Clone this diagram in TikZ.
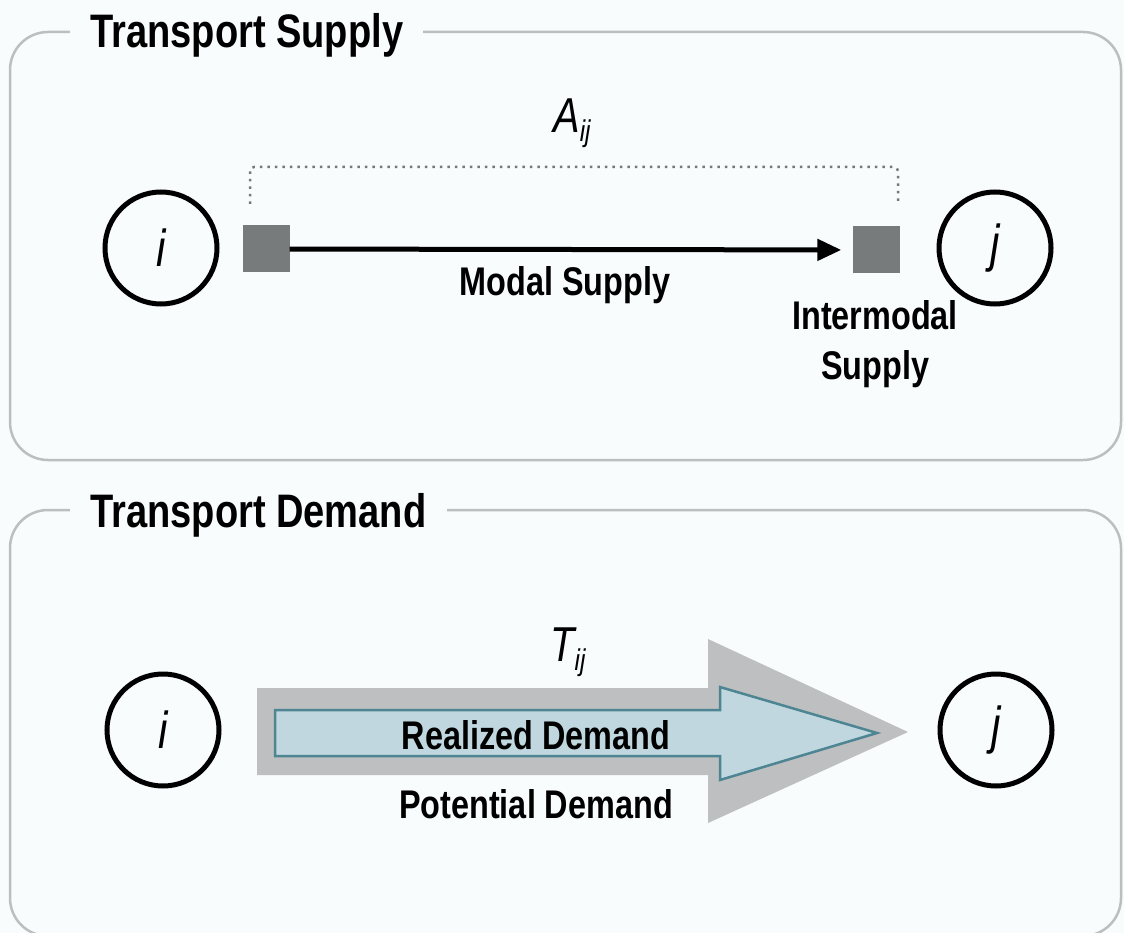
\documentclass[tikz,border=0pt]{standalone}
\usepackage{fontspec}
\setmainfont{Liberation Sans}[FakeStretch=0.81]
\usetikzlibrary{arrows.meta}

\definecolor{bgcol}{RGB}{249,252,253}
\definecolor{framecol}{RGB}{189,190,190}
\definecolor{boxcol}{RGB}{120,123,123}
\definecolor{potcol}{RGB}{190,191,193}
\definecolor{realcol}{RGB}{192,215,223}
\definecolor{realedge}{RGB}{77,133,147}
\definecolor{dotcol}{RGB}{120,120,120}

\tikzstyle{zone} = [draw=framecol,line width=2.5pt,rounded corners=38pt]
\tikzstyle{zonetitle} = [fill=bgcol,inner xsep=20pt,inner ysep=6pt,anchor=base west,font=\fontsize{47}{50}\selectfont\bfseries]
\tikzstyle{place} = [circle,draw,line width=5pt,minimum size=112pt,inner sep=0pt,font=\fontsize{52}{54}\selectfont\itshape]
\tikzstyle{terminal} = [fill=boxcol,minimum size=47pt,inner sep=0pt]
\tikzstyle{lbl} = [inner sep=0pt,align=center,font=\fontsize{40}{50}\selectfont\bfseries]
\tikzstyle{symb} = [inner sep=0pt,anchor=base,font=\fontsize{49}{50}\selectfont\itshape]
\tikzstyle{flow} = [line width=5pt,-{Triangle[length=24pt,width=21pt]},shorten >=11pt]
\tikzstyle{bracket} = [draw=dotcol,line width=2.5pt,dash pattern=on 2.5pt off 5pt,rounded corners=4pt]

\newcommand{\sub}[1]{\raisebox{-9pt}{\fontsize{30}{32}\selectfont #1}}

\begin{document}
\begin{tikzpicture}[x=1pt,y=-1pt]
	\path[use as bounding box,fill=bgcol] (0,0) rectangle (1124,933);

	% supply
	\draw[zone] (10,32) rectangle (1121,460);
	\node[zonetitle] (supply) at (70,48) {Transport Supply};

	\node[place] (i1) at (161,248) {i};
	\node[place] (j1) at (995,248) {j};
	\node[terminal] (s1) at (266,249) {};
	\node[terminal] (s2) at (876,250) {};

	\draw[flow] (s1) -- (s2);
	\coordinate (bl) at (250,204);
	\coordinate (br) at (898,204);
	\draw[bracket] (bl) -- (250,167) -- (898,167) -- (br);

	\node[symb] (aij) at (572,133) {A\sub{ij}};
	\node[lbl,anchor=base] (modal) at (565,295) {Modal Supply};
	\node[lbl,anchor=north] (inter) at (875,300) {Intermodal\\Supply};

	% demand
	\draw[zone] (10,510) rectangle (1121,936);
	\node[zonetitle] (demand) at (70,527) {Transport Demand};

	\node[place] (i2) at (163,730) {i};
	\node[place] (j2) at (996,730) {j};

	\fill[potcol] (257,688) -- (708,688) -- (708,639) -- (908,732) -- (708,823) -- (708,775) -- (257,775) -- cycle;
	\filldraw[fill=realcol,draw=realedge,line width=2.5pt] (275,710) -- (720,710) -- (720,687) -- (877,733) -- (720,780) -- (720,756) -- (275,756) -- cycle;

	\node[symb] (tij) at (568,661) {T\sub{ij}};
	\node[lbl,anchor=base] (real) at (536,749) {Realized Demand};
	\node[lbl,anchor=base] (pot) at (536,818) {Potential Demand};
\end{tikzpicture}
\end{document}
